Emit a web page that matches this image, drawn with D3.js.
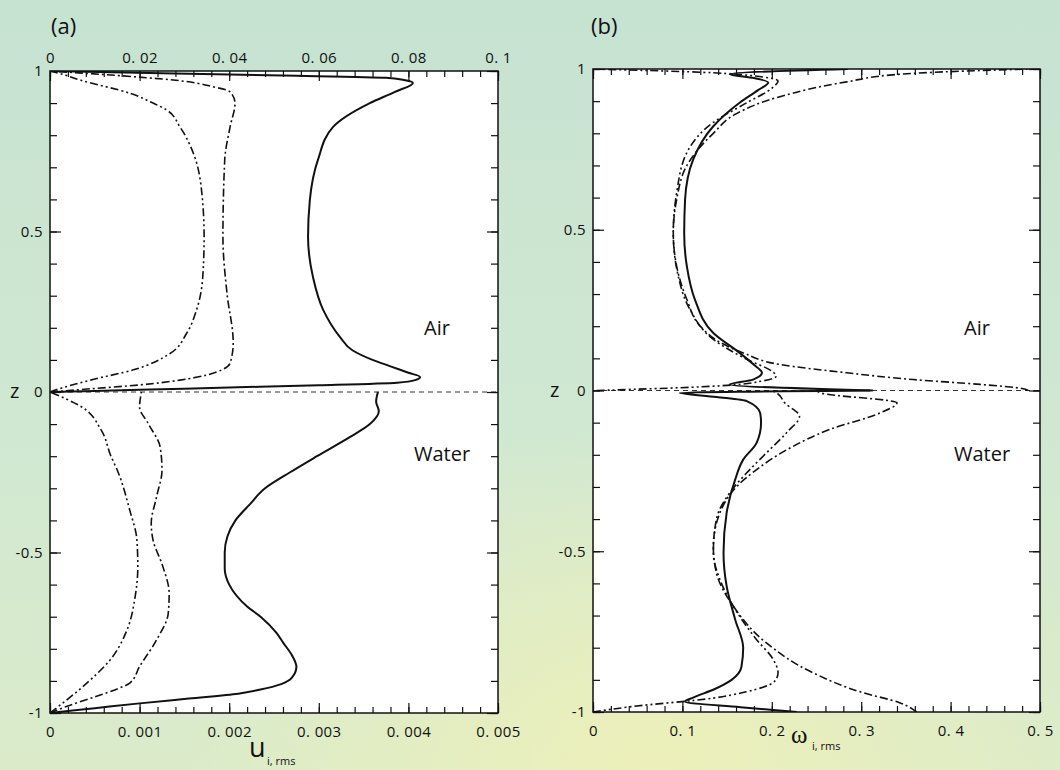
<!DOCTYPE html>
<meta charset="utf-8">
<style>
body { margin: 0; }
svg { display: block; font-family: "Open Sans", "DejaVu Sans", sans-serif; }
.tick text { font-size: 15px; letter-spacing: 0.4px; fill: #111; font-family: "Open Sans", sans-serif; }
.tick line { stroke: #111; stroke-width: 1.2px; }
.domain { display: none; }
.frame { fill: none; stroke: #111; stroke-width: 1.5px; }
.plotbg { fill: #fff; }
.zero { stroke: #333; stroke-width: 1px; stroke-dasharray: 5,4; }
.line { fill: none; stroke: #111; }
.solid { stroke-width: 2px; }
.dashdot { stroke-width: 1.6px; stroke-dasharray: 8,3,2,3; }
.dashdotdot { stroke-width: 1.6px; stroke-dasharray: 8,3,2,3,2,3; }
.label { font-size: 20px; fill: #111; }
</style>
<svg width="1060" height="770"></svg>
<script src="https://d3js.org/d3.v7.min.js"></script>
<script>

// ticks
var zTicks = [-1, -0.5, 0, 0.5, 1],
    zLabels = ["-1", "-0.5", "0", "0.5", "1"];
var aTopTicks = [0, 0.02, 0.04, 0.06, 0.08, 0.1],
    aTopLabels = ["0", "0. 02", "0. 04", "0. 06", "0. 08", "0. 1"];
var aBottomTicks = [0, 0.001, 0.002, 0.003, 0.004, 0.005],
    aBottomLabels = ["0", "0. 001", "0. 002", "0. 003", "0. 004", "0. 005"];
var bBottomTicks = [0, 0.1, 0.2, 0.3, 0.4, 0.5],
    bBottomLabels = ["0", "0. 1", "0. 2", "0. 3", "0. 4", "0. 5"];

// (a) air, top axis units: [z, u]
var aAirSolid = [[0,0],[0.007,0.02],[0.014,0.04],[0.021,0.06],[0.029,0.0775],[0.037,0.0815],[0.047,0.0826],[0.06,0.08],[0.08,0.076],[0.1,0.072],[0.13,0.0675],[0.172,0.0647],[0.255,0.061],[0.358,0.0587],[0.483,0.0576],[0.598,0.058],[0.723,0.0598],[0.826,0.0632],[0.9,0.0714],[0.935,0.077],[0.963,0.081],[0.972,0.079],[0.979,0.075],[0.986,0.052],[0.993,0.025],[1,0]];
var aAirDashDot = [[0,0],[0.01,0.009],[0.022,0.02],[0.037,0.029],[0.053,0.035],[0.07,0.0385],[0.09,0.0402],[0.153,0.0409],[0.308,0.0395],[0.483,0.0386],[0.723,0.039],[0.826,0.0402],[0.9,0.0413],[0.935,0.0402],[0.951,0.0364],[0.972,0.0275],[0.986,0.015],[1,0]];
var aAirDashDotDot = [[0,0],[0.006,0.0012],[0.037,0.009],[0.069,0.0186],[0.12,0.0268],[0.183,0.0305],[0.255,0.0327],[0.359,0.0341],[0.484,0.0344],[0.619,0.0339],[0.744,0.032],[0.826,0.029],[0.879,0.026],[0.9,0.023],[0.93,0.018],[0.972,0.0067],[0.993,0.002],[1,0]];

// (a) water, bottom axis units
var aWaterSolid = [[-1,0],[-0.985,0.0005],[-0.97,0.001],[-0.955,0.00155],[-0.94,0.0021],[-0.927,0.00235],[-0.91,0.00258],[-0.89,0.0027],[-0.856,0.00275],[-0.82,0.0027],[-0.78,0.0026],[-0.751,0.00253],[-0.7,0.00235],[-0.668,0.0022],[-0.6,0.002],[-0.55,0.00195],[-0.5,0.00195],[-0.45,0.00198],[-0.4,0.00207],[-0.35,0.00223],[-0.3,0.0024],[-0.25,0.00268],[-0.2,0.00298],[-0.14,0.00335],[-0.1,0.00357],[-0.06,0.00367],[-0.03,0.00364],[0,0.00366]];
var aWaterDashDot = [[-1,0],[-0.979,0.00019],[-0.948,0.00052],[-0.925,0.00075],[-0.907,0.00089],[-0.855,0.001],[-0.772,0.00119],[-0.689,0.00132],[-0.627,0.00133],[-0.544,0.00126],[-0.461,0.00115],[-0.409,0.00113],[-0.326,0.00119],[-0.244,0.00125],[-0.172,0.00123],[-0.1,0.0011],[-0.047,0.001],[0,0.00102]];
var aWaterDashDotDot = [[-1,0],[-0.907,0.00041],[-0.835,0.00067],[-0.741,0.00086],[-0.638,0.00095],[-0.544,0.00098],[-0.461,0.00097],[-0.368,0.00089],[-0.243,0.00075],[-0.2,0.00068],[-0.118,0.00057],[-0.046,0.00035],[0,0]];

// (b) air: [z, omega]
var bAirSolid = [[0,0.313],[0.0187,0.153],[0.034,0.179],[0.055,0.189],[0.08,0.18],[0.117,0.164],[0.179,0.1346],[0.283,0.114],[0.386,0.105],[0.49,0.102],[0.594,0.103],[0.718,0.112],[0.822,0.1346],[0.895,0.164],[0.935,0.185],[0.958,0.196],[0.972,0.18],[0.984,0.153],[1,0.285]];
var bAirDashDot = [[0,0.487],[0.006,0.48],[0.019,0.433],[0.034,0.358],[0.055,0.284],[0.081,0.209],[0.117,0.168],[0.15,0.142],[0.2,0.12],[0.283,0.105],[0.386,0.0936],[0.49,0.0898],[0.594,0.0936],[0.7,0.105],[0.8,0.1346],[0.862,0.161],[0.914,0.209],[0.96,0.284],[0.984,0.345],[0.995,0.43],[1,0.489]];
var bAirDashDotDot = [[0,0.004],[0.005,0.06],[0.01,0.11],[0.016,0.15],[0.03,0.19],[0.045,0.205],[0.06,0.2],[0.097,0.172],[0.159,0.1346],[0.252,0.1085],[0.355,0.0954],[0.49,0.0898],[0.615,0.0936],[0.74,0.105],[0.834,0.1346],[0.895,0.172],[0.94,0.2],[0.963,0.207],[0.975,0.19],[0.99,0.12],[1,0]];

// (b) water
var bWaterSolid = [[-1,0.228],[-0.985,0.165],[-0.968,0.103],[-0.955,0.112],[-0.93,0.135],[-0.9,0.155],[-0.86,0.166],[-0.8,0.168],[-0.712,0.159],[-0.609,0.1495],[-0.505,0.146],[-0.38,0.1495],[-0.277,0.159],[-0.215,0.168],[-0.163,0.183],[-0.1,0.188],[-0.07,0.187],[-0.033,0.172],[-0.02,0.138],[-0.007,0.097],[0,0.31]];
var bWaterDashDot = [[-1,0.362],[-0.971,0.343],[-0.94,0.302],[-0.878,0.246],[-0.785,0.194],[-0.671,0.157],[-0.567,0.138],[-0.485,0.1346],[-0.38,0.142],[-0.298,0.161],[-0.246,0.183],[-0.184,0.217],[-0.121,0.265],[-0.07,0.321],[-0.038,0.34],[-0.008,0.255],[0,0.25]];
var bWaterDashDotDot = [[-1,0],[-0.984,0.041],[-0.957,0.134],[-0.938,0.17],[-0.905,0.203],[-0.878,0.207],[-0.837,0.2017],[-0.775,0.183],[-0.671,0.157],[-0.588,0.142],[-0.505,0.1346],[-0.401,0.138],[-0.318,0.153],[-0.256,0.172],[-0.194,0.194],[-0.13,0.217],[-0.08,0.231],[-0.04,0.215],[-0.007,0.205],[0,0.2]];

var svg = d3.select("svg");

// background
var defs = svg.append("defs");
var bg = defs.append("linearGradient").attr("id", "bg").attr("x1", 0).attr("y1", 0).attr("x2", 0).attr("y2", 1);
bg.append("stop").attr("offset", "0%").attr("stop-color", "#c6e2d1");
bg.append("stop").attr("offset", "55%").attr("stop-color", "#d0e8d2");
bg.append("stop").attr("offset", "100%").attr("stop-color", "#dbebca");
var glow = defs.append("radialGradient").attr("id", "glow").attr("cx", 0.62).attr("cy", 1).attr("r", 0.45);
glow.append("stop").attr("offset", "0%").attr("stop-color", "#eef0b8").attr("stop-opacity", 0.95);
glow.append("stop").attr("offset", "100%").attr("stop-color", "#eef0b8").attr("stop-opacity", 0);
svg.append("rect").attr("width", 1060).attr("height", 770).attr("fill", "url(#bg)");
svg.append("rect").attr("width", 1060).attr("height", 770).attr("fill", "url(#glow)");

var line = d3.line().curve(d3.curveMonotoneY);

function panel(id, left, right, top, bottom) {
  var p = {
    id: id,
    y: d3.scaleLinear().domain([-1, 1]).range([bottom, top]),
    left: left, right: right, top: top, bottom: bottom
  };
  svg.append("rect").attr("class", "plotbg")
      .attr("x", left).attr("y", top).attr("width", right - left).attr("height", bottom - top);
  defs.append("clipPath").attr("id", "clip-" + id)
    .append("rect").attr("x", left).attr("y", top).attr("width", right - left).attr("height", bottom - top);
  p.g = svg.append("g").attr("clip-path", "url(#clip-" + id + ")");
  p.g.append("line").attr("class", "zero")
      .attr("x1", left).attr("x2", right).attr("y1", p.y(0)).attr("y2", p.y(0));
  return p;
}

function ticks(axis, scale, values, size, labels, pad, tx, ty) {
  var a = axis(scale).tickValues(values).tickSize(-size).tickPadding(pad)
      .tickFormat(labels ? function(d, i) { return labels[i]; } : "");
  svg.append("g").attr("transform", "translate(" + tx + "," + ty + ")").call(a);
}

function zAxes(p) {
  var zMinor = d3.range(-10, 11).map(function(i) { return i / 10; });
  ticks(d3.axisLeft, p.y, zMinor, 7, null, 7, p.left, 0);
  ticks(d3.axisLeft, p.y, zTicks, 11, zLabels, 7, p.left, 0);
  ticks(d3.axisRight, p.y, zMinor, 7, null, 7, p.right, 0);
  ticks(d3.axisRight, p.y, zTicks, 11, null, 7, p.right, 0);
}

function curve(p, x, data, cls) {
  p.g.append("path")
      .attr("class", "line " + cls)
      .attr("d", line(data.map(function(d) { return [x(d[1]), p.y(d[0])]; })));
}

// ---- panel (a)
var pa = panel("a", 50, 498, 71, 713);
var xaTop = d3.scaleLinear().domain([0, 0.1]).range([pa.left, pa.right]);
var xaBot = d3.scaleLinear().domain([0, 0.005]).range([pa.left, pa.right]);

curve(pa, xaTop, aAirSolid, "solid");
curve(pa, xaTop, aAirDashDot, "dashdot");
curve(pa, xaTop, aAirDashDotDot, "dashdotdot");
curve(pa, xaBot, aWaterSolid, "solid");
curve(pa, xaBot, aWaterDashDot, "dashdot");
curve(pa, xaBot, aWaterDashDotDot, "dashdotdot");

ticks(d3.axisTop, xaTop, d3.range(0, 26).map(function(i) { return i * 0.004; }), 6, null, 8, 0, pa.top);
ticks(d3.axisTop, xaTop, aTopTicks, 10, aTopLabels, 8, 0, pa.top);
ticks(d3.axisBottom, xaBot, d3.range(0, 26).map(function(i) { return i * 0.0002; }), 6, null, 13, 0, pa.bottom);
ticks(d3.axisBottom, xaBot, aBottomTicks, 10, aBottomLabels, 13, 0, pa.bottom);
zAxes(pa);

// ---- panel (b)
var pb = panel("b", 593, 1040, 69, 712);
var xb = d3.scaleLinear().domain([0, 0.5]).range([pb.left, pb.right]);

curve(pb, xb, bAirSolid, "solid");
curve(pb, xb, bAirDashDot, "dashdot");
curve(pb, xb, bAirDashDotDot, "dashdotdot");
curve(pb, xb, bWaterSolid, "solid");
curve(pb, xb, bWaterDashDot, "dashdot");
curve(pb, xb, bWaterDashDotDot, "dashdotdot");

var bMinor = d3.range(0, 26).map(function(i) { return i * 0.02; });
ticks(d3.axisTop, xb, bMinor, 6, null, 8, 0, pb.top);
ticks(d3.axisTop, xb, bBottomTicks, 10, null, 8, 0, pb.top);
ticks(d3.axisBottom, xb, bMinor, 6, null, 13, 0, pb.bottom);
ticks(d3.axisBottom, xb, bBottomTicks, 10, bBottomLabels, 13, 0, pb.bottom);
zAxes(pb);

// frames
[pa, pb].forEach(function(p) {
  svg.append("rect").attr("class", "frame")
      .attr("x", p.left).attr("y", p.top).attr("width", p.right - p.left).attr("height", p.bottom - p.top);
});

// labels
function label(x, y, t, size, family) {
  var e = svg.append("text").attr("class", "label").attr("x", x).attr("y", y).text(t);
  if (size) e.style("font-size", size + "px");
  if (family) e.style("font-family", family);
  return e;
}
label(51, 34, "(a)", 22);
label(591, 34, "(b)", 22);
label(10, 398, "z", 20);
label(550, 397, "z", 20);
label(424, 335, "Air", 20);
label(414, 461, "Water", 20);
label(964, 335, "Air", 20);
label(954, 461, "Water", 20);
label(249, 757, "u", 27);
label(267, 765, "i, rms", 11);
label(791, 743, "\u03c9", 25, "'Liberation Serif', serif");
label(812, 750, "i, rms", 11);

</script>
